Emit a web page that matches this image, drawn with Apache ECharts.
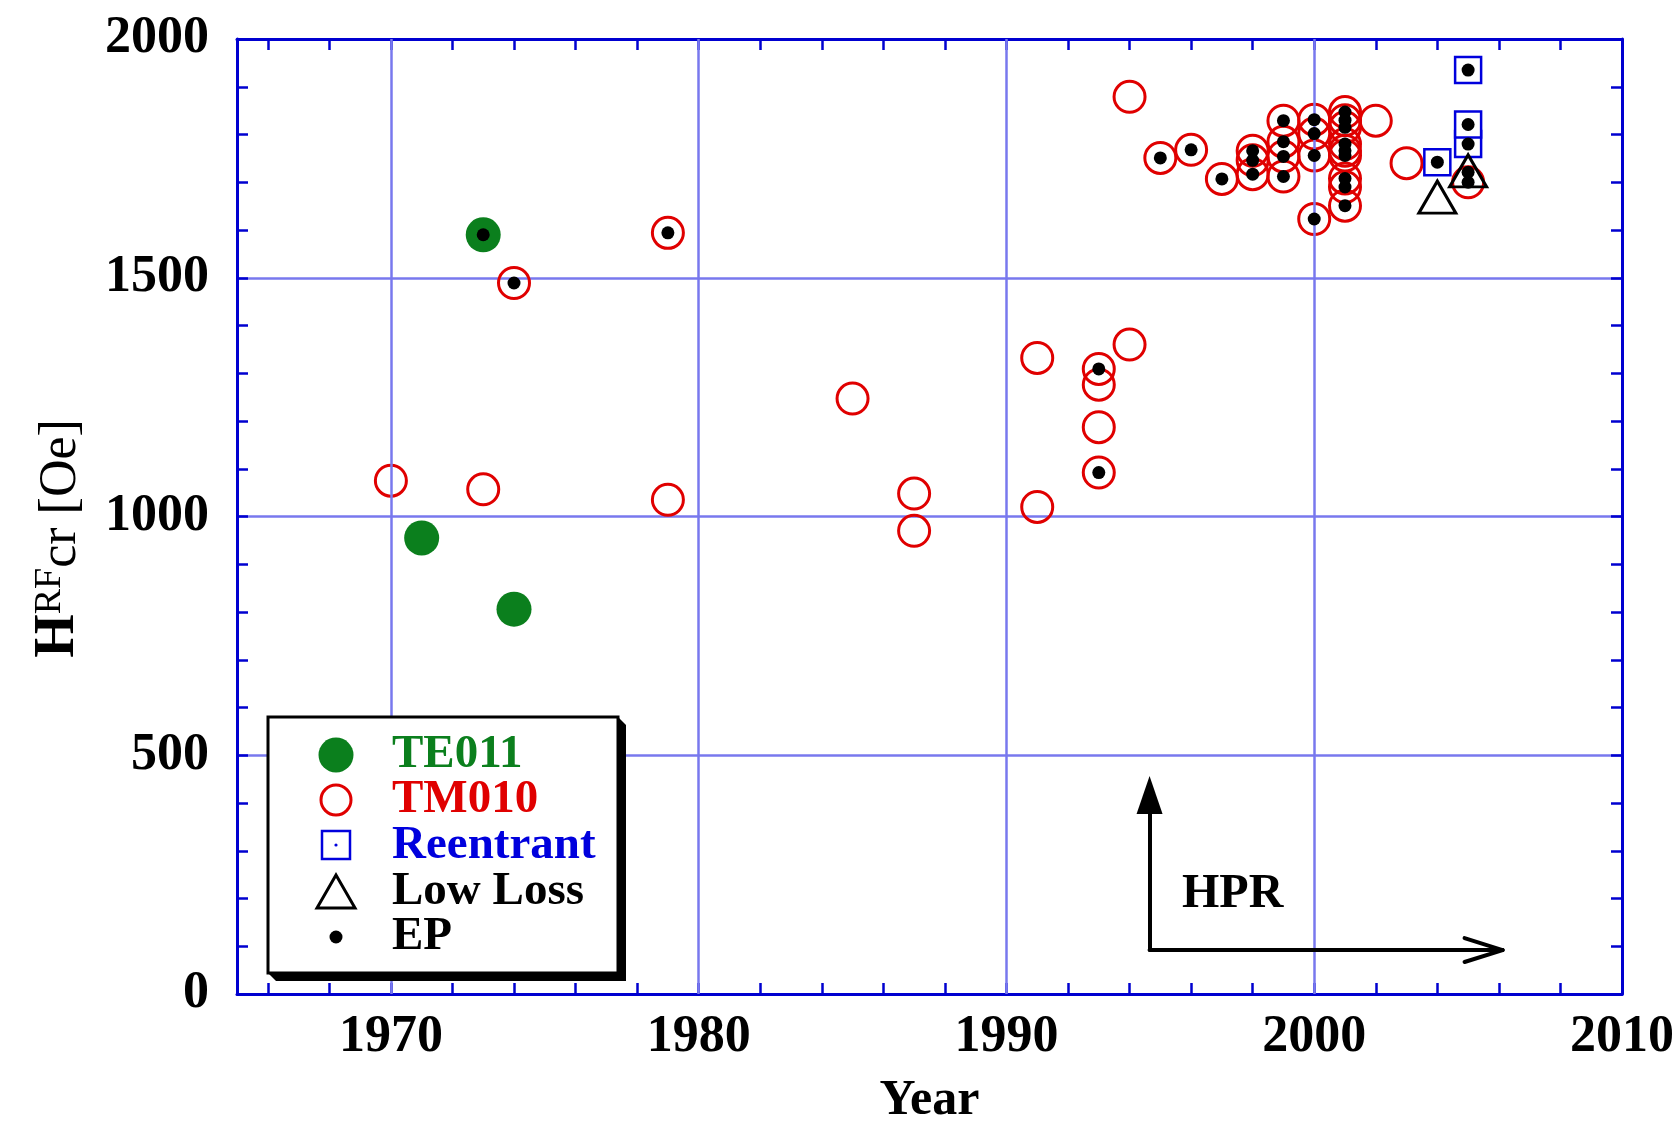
<!DOCTYPE html>
<html>
<head>
<meta charset="utf-8">
<script src="https://cdn.jsdelivr.net/npm/echarts@6/dist/echarts.min.js"></script>
<style>
html,body{margin:0;padding:0;background:#fff;}
#chart{width:1677px;height:1126px;}
</style>
</head>
<body>
<div id="chart"></div>
<script>
// ---------- data ----------
const seriesNames = ['TE011', 'TM010', 'Reentrant', 'Low Loss', 'EP'];
const te011 = [[1971, 955], [1973, 1590], [1974, 806]];
const tm010 = [
  [1970, 1075], [1973, 1057], [1974, 1489], [1979, 1594], [1979, 1035], [1985, 1247],
  [1987, 1048], [1987, 970], [1991, 1332], [1991, 1020], [1993, 1309], [1993, 1276],
  [1993, 1187], [1993, 1092], [1994, 1360], [1994, 1879], [1995, 1751], [1996, 1768],
  [1997, 1707], [1998, 1766], [1998, 1746], [1998, 1717], [1999, 1829], [1999, 1785],
  [1999, 1754], [1999, 1712], [2000, 1831], [2000, 1802], [2000, 1756], [2000, 1623],
  [2001, 1847], [2001, 1830], [2001, 1815], [2001, 1780], [2001, 1766], [2001, 1756],
  [2001, 1708], [2001, 1690], [2001, 1651], [2002, 1829], [2003, 1740], [2005, 1700]
];
const reentrant = [[2004, 1742], [2005, 1780], [2005, 1821], [2005, 1935]];
const lowLoss = [[2004, 1669], [2005, 1724]];
const ep = [
  [1973, 1590], [1974, 1489], [1979, 1594], [1993, 1309], [1993, 1092], [1995, 1751],
  [1996, 1768], [1997, 1707], [1998, 1766], [1998, 1746], [1998, 1717], [1999, 1829],
  [1999, 1785], [1999, 1754], [1999, 1712], [2000, 1831], [2000, 1802], [2000, 1756],
  [2000, 1623], [2001, 1847], [2001, 1830], [2001, 1815], [2001, 1780], [2001, 1766],
  [2001, 1756], [2001, 1708], [2001, 1690], [2001, 1651], [2004, 1742], [2005, 1935],
  [2005, 1821], [2005, 1780], [2005, 1721], [2005, 1700]
];
const xLabelYears = [1970, 1980, 1990, 2000, 2010];
const xGridYears = [1970, 1980, 1990, 2000];
const xTickYears = [1966, 1968, 1970, 1972, 1974, 1976, 1978, 1980, 1982, 1984, 1986, 1988,
  1990, 1992, 1994, 1996, 1998, 2000, 2002, 2004, 2006, 2008, 2010];
const hprStart = [1994.65, 92];
const hprUpEnd = [1994.65, 417];
const hprRightEnd = [2006.12, 92];
const hprLabelAt = [1997.35, 208];

// ---------- styles ----------
const GREEN = '#0b7f1d', RED = '#e00000', BLUE = '#0000dd', AXIS = '#0000d0', GRID = '#7878ee';
const SERIF = '"Liberation Serif", "Times New Roman", serif';

const chart = echarts.init(document.getElementById('chart'), null, {renderer: 'canvas'});

const axisLineStyle = {show: true, onZero: false, lineStyle: {color: AXIS, width: 3}};
const tickStyle = {color: AXIS, width: 2.5};
const plainNum = v => String(v);

const option = {
  animation: false,
  backgroundColor: '#fff',
  grid: {left: 237, right: 55, top: 39, bottom: 132, containLabel: false, outerBoundsMode: 'none'},
  xAxis: [
    {
      type: 'value', position: 'bottom', min: 1965, max: 2010,
      axisLine: axisLineStyle,
      axisTick: {show: true, inside: true, length: 11, customValues: xTickYears, lineStyle: tickStyle},
      axisLabel: {show: true, customValues: xLabelYears, formatter: plainNum, fontFamily: SERIF,
        fontWeight: 'bold', fontSize: 52, color: '#000', margin: 18},
      splitLine: {show: false},
      name: 'Year', nameLocation: 'middle', nameGap: 82,
      nameTextStyle: {fontFamily: SERIF, fontWeight: 'bold', fontSize: 50, color: '#000'}
    },
    {
      type: 'value', position: 'top', min: 1965, max: 2010,
      axisLine: axisLineStyle,
      axisTick: {show: true, inside: true, length: 11, customValues: xTickYears, lineStyle: tickStyle},
      axisLabel: {show: false},
      splitLine: {show: false}
    }
  ],
  yAxis: [
    {
      type: 'value', position: 'left', min: 0, max: 2000, interval: 500,
      axisLine: axisLineStyle,
      axisTick: {show: true, inside: true, length: 11, lineStyle: tickStyle},
      minorTick: {show: true, splitNumber: 5, length: 11, lineStyle: tickStyle},
      axisLabel: {show: true, formatter: plainNum, fontFamily: SERIF, fontWeight: 'bold',
        fontSize: 52, color: '#000', margin: 28},
      splitLine: {show: true, lineStyle: {color: GRID, width: 2.5}},
      minorSplitLine: {show: false},
      name: '{h|H}{sup|RF}{n|cr [Oe]}',
      nameLocation: 'middle', nameRotate: 90, nameGap: 150,
      nameTextStyle: {
        padding: [0, 44, 0, 0],
        rich: {
          h: {fontFamily: SERIF, fontWeight: 'bold', fontSize: 56, lineHeight: 56, padding: [12, 0, 0, 0],
            verticalAlign: 'bottom', color: '#000'},
          sup: {fontFamily: SERIF, fontWeight: 'normal', fontSize: 38, lineHeight: 38,
            verticalAlign: 'top', color: '#000'},
          n: {fontFamily: SERIF, fontWeight: 'normal', fontSize: 52, lineHeight: 52,
            verticalAlign: 'bottom', color: '#000'}
        }
      }
    },
    {
      type: 'value', position: 'right', min: 0, max: 2000, interval: 500,
      axisLine: axisLineStyle,
      axisTick: {show: true, inside: true, length: 11, lineStyle: tickStyle},
      minorTick: {show: true, splitNumber: 5, length: 11, lineStyle: tickStyle},
      axisLabel: {show: false},
      splitLine: {show: false}
    }
  ],
  series: [
    {
      name: 'grid', type: 'scatter', data: [], z: 1, silent: true,
      markLine: {
        silent: true, symbol: ['none', 'none'], animation: false,
        label: {show: false},
        lineStyle: {color: GRID, width: 2.5, type: 'solid'},
        emphasis: {disabled: true},
        data: xGridYears.map(v => ({xAxis: v}))
      }
    },
    {
      name: seriesNames[0], type: 'scatter', data: te011, symbol: 'circle', symbolSize: 35,
      itemStyle: {color: GREEN, opacity: 1}, emphasis: {disabled: true}, z: 2
    },
    {
      name: seriesNames[1], type: 'scatter', data: tm010, symbol: 'circle', symbolSize: 31,
      itemStyle: {color: 'rgba(255,255,255,0)', borderColor: RED, borderWidth: 3, opacity: 1},
      emphasis: {disabled: true}, z: 3
    },
    {
      name: seriesNames[2], type: 'scatter', data: reentrant, symbol: 'rect', symbolSize: 26,
      itemStyle: {color: '#fff', borderColor: BLUE, borderWidth: 2.5, opacity: 1},
      emphasis: {disabled: true}, z: 4
    },
    {
      name: seriesNames[3], type: 'scatter', data: lowLoss, symbol: 'triangle', symbolSize: [37, 32],
      itemStyle: {color: 'rgba(255,255,255,0)', borderColor: '#000', borderWidth: 3, opacity: 1},
      emphasis: {disabled: true}, z: 5
    },
    {
      name: seriesNames[4], type: 'scatter', data: ep, symbol: 'circle', symbolSize: 13,
      itemStyle: {color: '#000', opacity: 1}, emphasis: {disabled: true}, z: 6
    },
    {
      name: 'HPR', type: 'scatter', data: [], z: 7,
      markLine: {
        silent: true, symbol: ['none', 'none'], animation: false,
        label: {show: false},
        lineStyle: {color: '#000', width: 4, type: 'solid', cap: 'round'},
        emphasis: {disabled: true},
        data: [
          [{coord: hprStart, symbol: 'none'}, {coord: hprUpEnd, symbol: 'triangle', symbolSize: [26, 38]}],
          [{coord: hprStart, symbol: 'none'}, {coord: hprRightEnd, symbol: 'none'}],
          [{coord: hprRightEnd, symbol: 'none'}, {coord: [hprRightEnd[0] - 1.235, hprRightEnd[1] + 25], symbol: 'none'}],
          [{coord: hprRightEnd, symbol: 'none'}, {coord: [hprRightEnd[0] - 1.235, hprRightEnd[1] - 25], symbol: 'none'}]
        ]
      },
      markPoint: {
        silent: true, symbol: 'circle', symbolSize: 1,
        itemStyle: {color: 'rgba(0,0,0,0)'},
        label: {show: true, position: 'inside', formatter: 'HPR', fontFamily: SERIF,
          fontWeight: 'bold', fontSize: 48, color: '#000'},
        data: [{coord: hprLabelAt}]
      }
    }
  ],
  graphic: [
    {type: 'polygon', z: 100, silent: true,
      shape: {points: [[618, 717], [626, 725], [626, 981], [276, 981], [268, 973], [618, 973]]},
      style: {fill: '#000'}},
    {type: 'rect', z: 101, silent: true, shape: {x: 268, y: 717, width: 350, height: 256},
      style: {fill: '#fff', stroke: '#000', lineWidth: 3}},
    {type: 'circle', z: 102, silent: true, shape: {cx: 336, cy: 755, r: 17.5}, style: {fill: GREEN}},
    {type: 'circle', z: 102, silent: true, shape: {cx: 336, cy: 800, r: 15},
      style: {fill: 'none', stroke: RED, lineWidth: 3}},
    {type: 'rect', z: 102, silent: true, shape: {x: 322, y: 831, width: 28, height: 28},
      style: {fill: 'none', stroke: BLUE, lineWidth: 2.5}},
    {type: 'circle', z: 102, silent: true, shape: {cx: 336, cy: 845, r: 1.6}, style: {fill: BLUE}},
    {type: 'polygon', z: 102, silent: true, shape: {points: [[336, 875], [317, 908], [355, 908]]},
      style: {fill: 'none', stroke: '#000', lineWidth: 3}},
    {type: 'circle', z: 102, silent: true, shape: {cx: 336, cy: 937, r: 6.5}, style: {fill: '#000'}},
    {type: 'text', z: 102, silent: true, x: 392, y: 755,
      style: {text: seriesNames[0], font: 'bold 47px ' + SERIF, fill: GREEN, verticalAlign: 'middle'}},
    {type: 'text', z: 102, silent: true, x: 392, y: 800,
      style: {text: seriesNames[1], font: 'bold 47px ' + SERIF, fill: RED, verticalAlign: 'middle'}},
    {type: 'text', z: 102, silent: true, x: 392, y: 846,
      style: {text: seriesNames[2], font: 'bold 47px ' + SERIF, fill: BLUE, verticalAlign: 'middle'}},
    {type: 'text', z: 102, silent: true, x: 392, y: 892,
      style: {text: seriesNames[3], font: 'bold 47px ' + SERIF, fill: '#000', verticalAlign: 'middle'}},
    {type: 'text', z: 102, silent: true, x: 392, y: 937,
      style: {text: seriesNames[4], font: 'bold 47px ' + SERIF, fill: '#000', verticalAlign: 'middle'}}
  ]
};

chart.setOption(option);
</script>
</body>
</html>
